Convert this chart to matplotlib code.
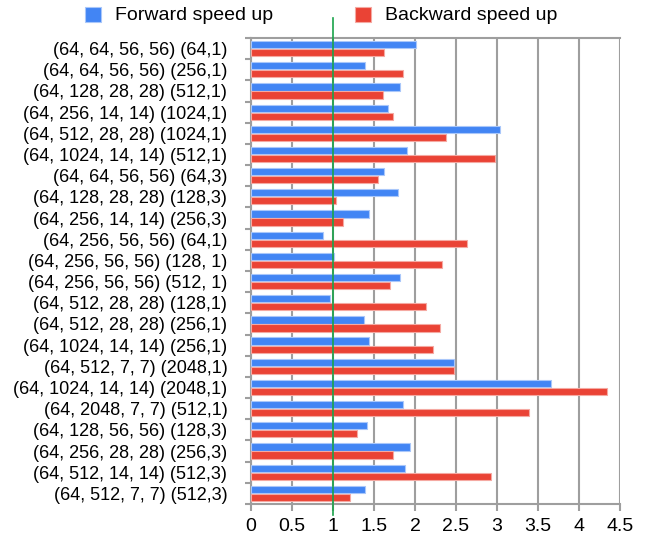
import matplotlib
matplotlib.use("Agg")
import matplotlib.pyplot as plt
import numpy as np
from matplotlib.patches import Rectangle

plt.rcParams['font.family'] = ['Liberation Sans', 'DejaVu Sans']

categories = [
    "(64, 64, 56, 56) (64,1)",
    "(64, 64, 56, 56) (256,1)",
    "(64, 128, 28, 28) (512,1)",
    "(64, 256, 14, 14) (1024,1)",
    "(64, 512, 28, 28) (1024,1)",
    "(64, 1024, 14, 14) (512,1)",
    "(64, 64, 56, 56) (64,3)",
    "(64, 128, 28, 28) (128,3)",
    "(64, 256, 14, 14) (256,3)",
    "(64, 256, 56, 56) (64,1)",
    "(64, 256, 56, 56) (128, 1)",
    "(64, 256, 56, 56) (512, 1)",
    "(64, 512, 28, 28) (128,1)",
    "(64, 512, 28, 28) (256,1)",
    "(64, 1024, 14, 14) (256,1)",
    "(64, 512, 7, 7) (2048,1)",
    "(64, 1024, 14, 14) (2048,1)",
    "(64, 2048, 7, 7) (512,1)",
    "(64, 128, 56, 56) (128,3)",
    "(64, 256, 28, 28) (256,3)",
    "(64, 512, 14, 14) (512,3)",
    "(64, 512, 7, 7) (512,3)",
]
forward = [2.01, 1.385, 1.815, 1.665, 3.04, 1.90, 1.62, 1.79, 1.435, 0.88, 1.01,
           1.815, 0.967, 1.377, 1.44, 2.48, 3.66, 1.85, 1.41, 1.94, 1.88, 1.385]
backward = [1.62, 1.85, 1.61, 1.73, 2.38, 2.97, 1.55, 1.035, 1.125, 2.63, 2.33,
            1.69, 2.14, 2.31, 2.22, 2.47, 4.34, 3.39, 1.29, 1.73, 2.93, 1.21]
xticks = [0, 0.5, 1, 1.5, 2, 2.5, 3, 3.5, 4, 4.5]
xticklabels = ["0", "0.5", "1", "1.5", "2", "2.5", "3", "3.5", "4", "4.5"]
series_names = ["Forward speed up", "Backward speed up"]
baseline = 1.0

blue = "#4285F4"
red = "#EA4335"
grid_c = "#9e9e9e"

W, H = 646, 539
fig = plt.figure(figsize=(W / 100, H / 100), dpi=100)
ax = fig.add_axes([0.3885, 0.065, 0.5713, 0.8645])

n = len(categories)
y = np.arange(n)
h = 0.34
ax.barh(y - 0.19, forward, height=h, color=blue, edgecolor="#a9c7fa", linewidth=0.8, zorder=3)
ax.barh(y + 0.19, backward, height=h, color=red, edgecolor="#f5a9a2", linewidth=0.8, zorder=3)

ax.set_ylim(n - 0.5, -0.5)
ax.set_xlim(0, 4.5)
ax.set_xticks(xticks)
ax.set_xticklabels(xticklabels, fontsize=14)
ax.set_yticks(y)
ax.set_yticklabels(categories, fontsize=13)
ax.set_yticks(np.arange(n + 1) - 0.5, minor=True)
ax.tick_params(axis='y', which='major', length=0, pad=17)
ax.tick_params(axis='y', which='minor', length=4, color=grid_c, width=1.5)
ax.tick_params(axis='x', which='major', length=5, color=grid_c, width=1.5, pad=5)

ax.grid(axis='x', color=grid_c, linewidth=1.5, zorder=0)
ax.set_axisbelow(True)
for s in ['top', 'bottom', 'left']:
    ax.spines[s].set_color(grid_c)
    ax.spines[s].set_linewidth(1.5)
ax.spines['right'].set_visible(False)

ax.axvline(baseline, ymin=-0.023, ymax=1.043, color="#1aa34a", linewidth=1.2, clip_on=False, zorder=4)

# legend drawn in figure pixel coordinates
for (sx, tx), col, ec, name in zip([(85, 115), (355, 385)], [blue, red],
                                    ["#a9c7fa", "#f5a9a2"], series_names):
    fig.patches.append(Rectangle((sx / W, 1 - 22 / H), 16 / W, 15 / H,
                                 transform=fig.transFigure, facecolor=col,
                                 edgecolor=ec, linewidth=0.8))
    fig.text(tx / W, 1 - 15 / H, name, fontsize=14, va='center', ha='left')

fig.savefig("out.png", dpi=100)
